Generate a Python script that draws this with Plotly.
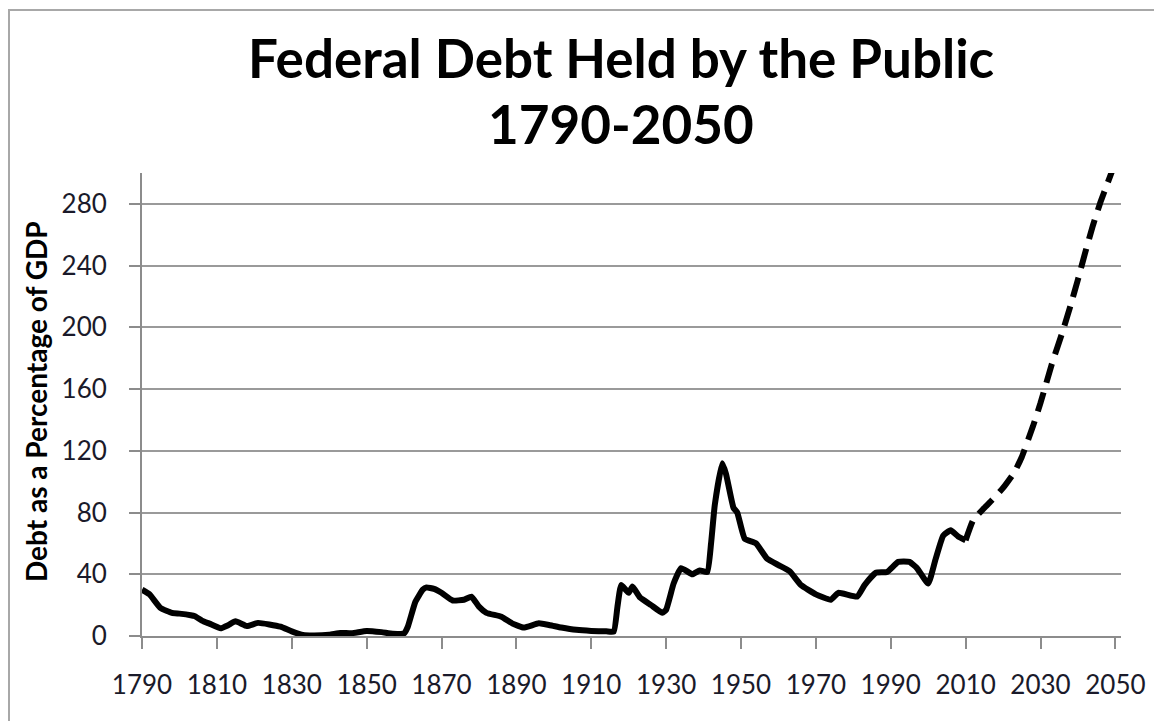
import plotly.graph_objects as go

# Historical debt held by the public (% of GDP)
hist_years = [1790, 1792, 1795, 1798, 1800, 1803, 1804, 1806, 1808, 1811, 1813, 1815,
              1818, 1821, 1824, 1827, 1830, 1833, 1836, 1840, 1843, 1846, 1850, 1854,
              1857, 1860, 1861, 1863, 1865, 1866, 1868, 1870, 1873, 1876, 1878, 1880,
              1882, 1886, 1889, 1892, 1896, 1899, 1902, 1906, 1910, 1914, 1916, 1917,
              1918, 1920, 1921, 1923, 1926, 1929, 1930, 1932, 1934, 1937, 1939, 1941,
              1942, 1943, 1945, 1946, 1948, 1949, 1951, 1954, 1957, 1960, 1963, 1966,
              1970, 1974, 1976, 1981, 1983, 1986, 1989, 1992, 1995, 1997, 2000, 2002,
              2004, 2006, 2008, 2010]
hist_values = [30, 27, 18, 15, 14.5, 13.5, 13, 10, 8, 5, 7, 9.5,
               6.5, 8.5, 7.5, 6, 3, 0.6, 0.3, 0.8, 2, 1.8, 3.3, 2.5,
               1.5, 1.7, 6, 22, 30, 31.5, 30.5, 28, 23, 23.5, 25.5, 19,
               15, 12.5, 8, 5.5, 8.2, 7, 5.5, 4, 3.3, 3, 2.8, 19,
               33, 28, 32, 25, 20, 15, 17, 34, 44, 40, 42.5, 41.5,
               60, 85, 112, 105, 83, 80, 63, 60, 50, 46, 42, 33,
               27, 23.5, 28, 25.5, 33, 41, 41.5, 48, 48, 44, 34, 50,
               65, 68.5, 64.5, 62]

# Projection (dashed)
proj_years = [2010, 2012, 2015, 2017, 2020, 2023, 2025, 2028, 2030, 2033, 2036,
              2038, 2040, 2042, 2044, 2046, 2048, 2050]
proj_values = [62, 75, 83, 88, 96, 106, 116, 136, 151, 176, 198,
               214, 231, 249, 266, 281, 294, 307]

title_line1 = "Federal Debt Held by the Public"
title_line2 = "1790-2050"
y_title = "Debt as a Percentage of GDP"

x_ticks = list(range(1790, 2051, 20))
y_ticks = list(range(0, 281, 40))

# The page body has an 8px margin, so the figure is drawn 8px smaller
OFF = 8
W, H = 1162 - OFF, 721 - OFF
PL, PT, PR, PB = 142, 173, 1121, 636   # plot area in page pixels
L, T = PL - OFF, PT - OFF
R, B = W - (PR - OFF), H - (PB - OFF)
pw, ph = PR - PL, PB - PT

def px(xp):
    return (xp - PL) / pw

def py(yp):
    return (PB - yp) / ph

FONT = "Lato, 'Open Sans', sans-serif"

fig = go.Figure()
fig.add_trace(go.Scatter(x=hist_years, y=hist_values, mode="lines",
                         line=dict(color="black", width=6, shape="spline", smoothing=0.4),
                         showlegend=False, hoverinfo="x+y"))
fig.add_trace(go.Scatter(x=proj_years, y=proj_values, mode="lines",
                         line=dict(color="black", width=6, dash="20px,10px",
                                   shape="spline", smoothing=0.4),
                         showlegend=False, hoverinfo="x+y"))

tickfont = dict(family=FONT, size=26, color="#1a1a2a")

fig.update_layout(
    width=W, height=H,
    margin=dict(l=L, r=R, t=T, b=B, autoexpand=False),
    paper_bgcolor="white", plot_bgcolor="white",
    xaxis=dict(range=[1790, 2051.5], tickvals=x_ticks, ticktext=[str(v) for v in x_ticks],
               showgrid=False, zeroline=False, showline=True, linecolor="#8c8c8c", linewidth=2,
               ticks="outside", ticklen=11, tickwidth=2, tickcolor="#8c8c8c",
               tickfont=tickfont, ticklabelstandoff=14),
    yaxis=dict(range=[0, 300], tickvals=y_ticks, ticktext=[str(v) for v in y_ticks],
               showgrid=True, gridcolor="#9a9a9a", gridwidth=2, zeroline=False,
               showline=True, linecolor="#8c8c8c", linewidth=2,
               ticks="outside", ticklen=11, tickwidth=2, tickcolor="#8c8c8c",
               tickfont=tickfont, ticklabelstandoff=17),
    annotations=[
        dict(text="<b>" + title_line1 + "</b>", xref="paper", yref="paper",
             x=px(621), y=py(57), xanchor="center", yanchor="middle", showarrow=False,
             font=dict(family=FONT, size=53, color="black")),
        dict(text="<b>" + title_line2 + "</b>", xref="paper", yref="paper",
             x=px(621), y=py(124), xanchor="center", yanchor="middle", showarrow=False,
             font=dict(family=FONT, size=53, color="black")),
        dict(text="<b>" + y_title + "</b>", xref="paper", yref="paper",
             x=px(36), y=py(402), xanchor="center", yanchor="middle", showarrow=False,
             textangle=-90, font=dict(family=FONT, size=28, color="black")),
    ],
    shapes=[dict(type="rect", xref="paper", yref="paper",
                 x0=px(9), x1=px(1190), y0=py(760), y1=py(10),
                 line=dict(color="#a8a8a8", width=2), fillcolor="rgba(0,0,0,0)", layer="below")],
)

fig.write_html("out.html")
